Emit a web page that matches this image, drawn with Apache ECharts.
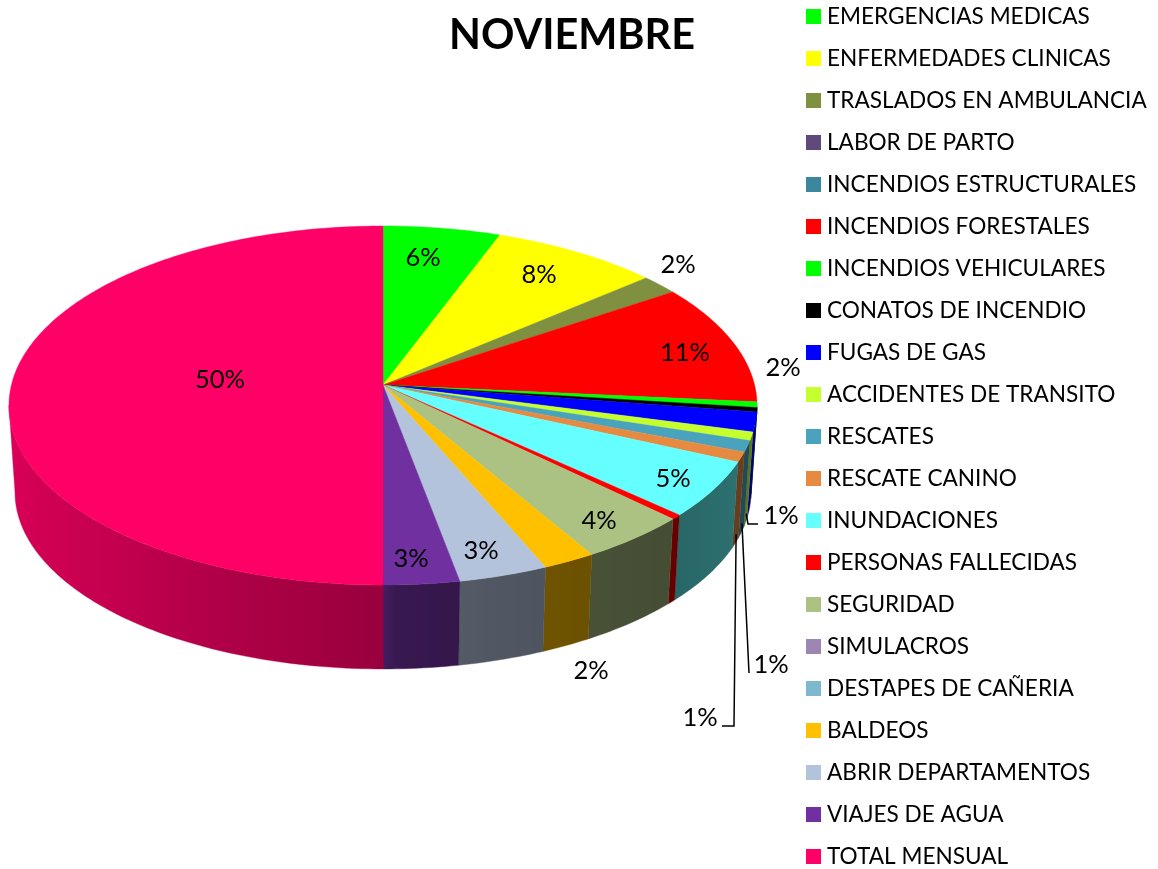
<!DOCTYPE html>
<html>
<head lang="es">
    <meta charset="UTF-8"/>
    <title>NOVIEMBRE</title>
    <script src="https://cdn.jsdelivr.net/npm/echarts@6/dist/echarts.min.js"></script>
    <style>
        html, body { margin: 0; padding: 0; background: #fff; }
    </style>
</head>
<body>
<div id="main" style="width: 1158px;height:869px;"></div>
<script>
    var categories = ['EMERGENCIAS MEDICAS', 'ENFERMEDADES CLINICAS', 'TRASLADOS EN AMBULANCIA', 'LABOR DE PARTO',
        'INCENDIOS ESTRUCTURALES', 'INCENDIOS FORESTALES', 'INCENDIOS VEHICULARES', 'CONATOS DE INCENDIO',
        'FUGAS DE GAS', 'ACCIDENTES DE TRANSITO', 'RESCATES', 'RESCATE CANINO', 'INUNDACIONES',
        'PERSONAS FALLECIDAS', 'SEGURIDAD', 'SIMULACROS', 'DESTAPES DE CAÑERIA', 'BALDEOS',
        'ABRIR DEPARTAMENTOS', 'VIAJES DE AGUA', 'TOTAL MENSUAL'];
    var values = [5.66, 8.09, 1.81, 0, 0, 10.94, 0.5, 0.4, 1.74, 0.76, 1.0, 0.9, 5.04, 0.41, 4.3, 0, 0, 2.05, 3.46, 2.94, 50];
    var colors = ['#00ff00', '#ffff00', '#7f9140', '#604a7b', '#3b889e', '#ff0000', '#00ff00', '#000000', '#0000ff',
        '#c6ff2e', '#4aa3bd', '#e68a42', '#66ffff', '#ff0000', '#abc282', '#9e86b3', '#7db8ce', '#ffc000',
        '#b4c3dc', '#7030a0', '#ff0066'];
    // texto de cada etiqueta, null = sin etiqueta
    var labels = ['6%', '8%', '2%', null, null, '11%', null, null, '2%', '1%', '1%', '1%', '5%', null, '4%', null, null, '2%', '3%', '3%', '50%'];

    // centro de cada etiqueta en pantalla
    var labelAt = {0: [423, 258], 1: [539, 275], 2: [678, 265], 5: [685, 353], 8: [783, 368], 9: [781, 516],
        10: [771, 665], 11: [700, 718], 12: [673, 479], 14: [599, 521], 17: [591, 671], 18: [481, 551], 19: [411, 559], 20: [220, 380]};
    // lineas guia, desde la pared hasta estos puntos
    var leaders = {9: [[748, 524], [758, 524]], 10: [[749, 673]], 11: [[734, 726], [722, 726]]};

    // perspectiva del disco: borde superior e inferior
    var persp = 0.1142;
    var topRim = {cx: 383, r: 371.6, a: -133.2, b: 385};
    var bottomRim = {cx: 383, r: 365.6, a: -120.8, b: 471.8};
    // luz de la pared segun el angulo
    var wallLight = [[96, 0.5], [120, 0.43], [135, 0.4], [150, 0.42], [165, 0.45], [178, 0.5], [180, 0.6], [225, 0.78], [264, 0.88]];
    var fontName = 'Lato';

    var total = values.reduce(function (s, v) { return s + v; }, 0);
    var starts = [];
    values.reduce(function (s, v, i) { starts[i] = s; return s + v; }, 0);

    function project(rim, deg) {
        var t = deg * Math.PI / 180;
        var d = 1 + persp * Math.cos(t);
        return [rim.cx + rim.r * Math.sin(t) / d, (rim.a * Math.cos(t) + rim.b) / d];
    }

    function lightAt(deg) {
        for (var i = 1; i < wallLight.length; i++) {
            if (deg <= wallLight[i][0]) {
                var p = wallLight[i - 1], q = wallLight[i];
                return p[1] + (q[1] - p[1]) * (deg - p[0]) / (q[0] - p[0]);
            }
        }
        return wallLight[wallLight.length - 1][1];
    }

    function shade(hex, k) {
        var n = parseInt(hex.slice(1), 16);
        return 'rgb(' + Math.round((n >> 16) * k) + ',' + Math.round(((n >> 8) & 255) * k) + ',' + Math.round((n & 255) * k) + ')';
    }

    function renderTop(params, api) {
        var a0 = api.value(0) / total * 360, a1 = (api.value(0) + api.value(1)) / total * 360;
        if (a1 <= a0) return {type: 'group', children: []};
        var pts = [[topRim.cx, topRim.b]];
        var n = Math.max(2, Math.ceil(a1 - a0));
        for (var i = 0; i <= n; i++) pts.push(project(topRim, a0 + (a1 - a0) * i / n));
        var c = colors[api.value(2)];
        return {type: 'polygon', shape: {points: pts}, style: {fill: c, stroke: c, lineWidth: 0.4}};
    }

    // pared: un poligono por porcion con degradado horizontal
    function renderWall(params, api) {
        var a0 = Math.max(api.value(0) / total * 360, 96.5), a1 = Math.min((api.value(0) + api.value(1)) / total * 360, 263.5);
        if (a1 <= a0) return {type: 'group', children: []};
        var c = colors[api.value(2)];
        var n = Math.max(2, Math.ceil(a1 - a0));
        var up = [], down = [], stops = [];
        for (var i = 0; i <= n; i++) {
            var a = a0 + (a1 - a0) * i / n;
            up.push(project(topRim, a));
            down.unshift(project(bottomRim, a));
        }
        var x0 = up[0][0], x1 = up[n][0];
        for (var j = 0; j <= n; j++) {
            stops.push({offset: Math.abs(x1 - x0) < 0.01 ? j / n : (up[j][0] - x0) / (x1 - x0), color: shade(c, lightAt(a0 + (a1 - a0) * j / n))});
        }
        var mid = shade(c, lightAt((a0 + a1) / 2));
        return {
            type: 'polygon',
            shape: {points: up.concat(down)},
            style: {
                fill: new echarts.graphic.LinearGradient(x0, 0, x1, 0, stops, true),
                stroke: mid, lineWidth: 0.4
            }
        };
    }

    function renderLabel(params, api) {
        var i = api.value(2);
        var kids = [];
        if (leaders[i]) {
            var mid = (api.value(0) + api.value(1) / 2) / total * 360;
            var p = project(topRim, mid), q = project(bottomRim, mid);
            var from = [p[0] + (q[0] - p[0]) * 0.9, p[1] + (q[1] - p[1]) * 0.9];
            kids.push({
                type: 'polyline',
                shape: {points: [from].concat(leaders[i])},
                style: {fill: null, stroke: '#000', lineWidth: 1.5}
            });
        }
        if (labels[i]) {
            kids.push({
                type: 'text',
                style: {
                    text: labels[i], x: labelAt[i][0], y: labelAt[i][1], fill: '#000',
                    fontSize: 25.5, fontFamily: fontName, align: 'center', verticalAlign: 'middle'
                }
            });
        }
        return {type: 'group', children: kids};
    }

    var rows = values.map(function (v, i) { return [starts[i], v, i]; });

    var series = [{
        type: 'custom', name: 'paredes', coordinateSystem: 'none', z: 1, silent: true,
        renderItem: renderWall, data: rows
    }];
    categories.forEach(function (name, i) {
        series.push({
            type: 'custom', name: name, coordinateSystem: 'none', z: 2, silent: true,
            itemStyle: {color: colors[i]},
            renderItem: renderTop, data: [rows[i]]
        });
    });
    series.push({
        type: 'custom', name: 'etiquetas', coordinateSystem: 'none', z: 3, silent: true,
        renderItem: renderLabel, data: rows
    });

    var myChart = echarts.init(document.getElementById('main'));
    var option = {
        animation: false,
        backgroundColor: '#fff',
        title: {
            text: 'NOVIEMBRE', left: 567, top: 10, textAlign: 'center',
            textStyle: {fontFamily: fontName, fontSize: 41.4, fontWeight: 'bold', color: '#000'}
        },
        legend: {
            data: categories, orient: 'vertical', left: 806, top: 5, padding: 0,
            icon: 'rect', itemWidth: 15, itemHeight: 15, itemGap: 19, selectedMode: false,
            textStyle: {fontFamily: fontName, fontSize: 22.6, lineHeight: 15, color: '#000', padding: [0, 0, 0, 1]}
        },
        series: series
    };
    myChart.setOption(option);
</script>
</body>
</html>
